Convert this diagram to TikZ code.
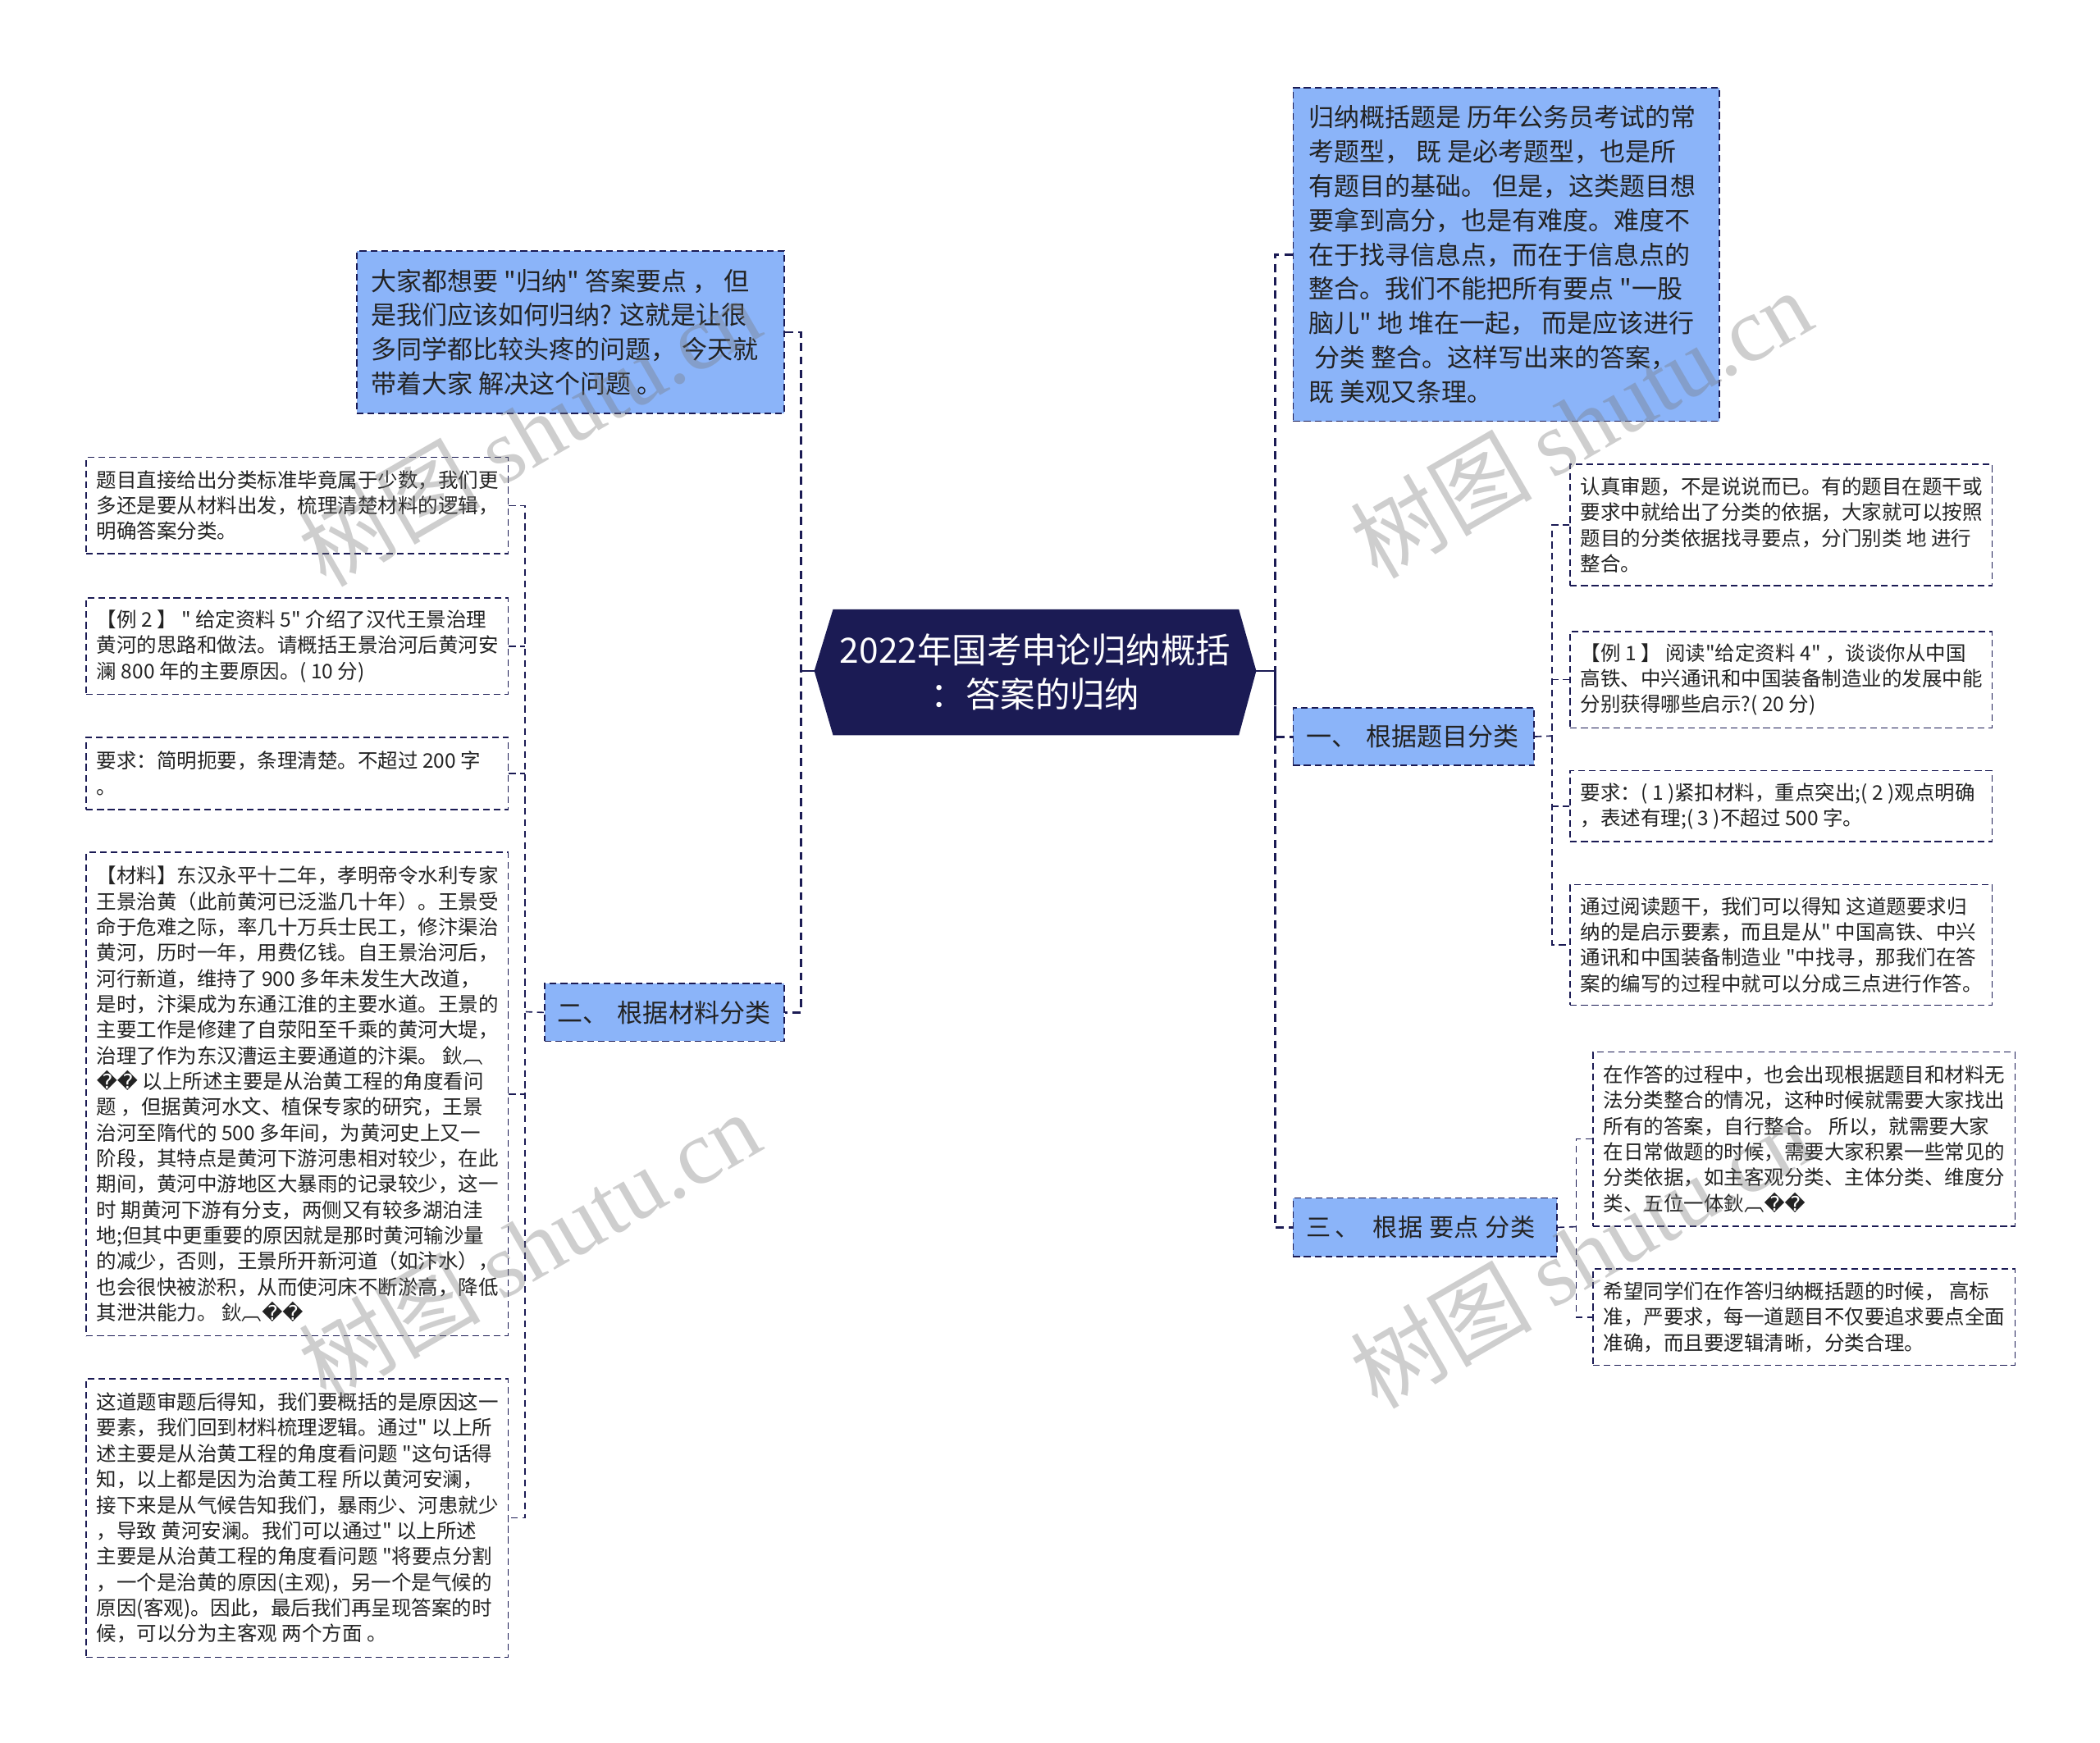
\documentclass[tikz,border=0pt]{standalone}
\usepackage{fontspec}
\setmainfont{Noto Sans CJK SC}[Ligatures=TeXOff]
\newfontfamily\dejavu{DejaVu Sans}
\newfontfamily\wmserif{Liberation Serif}
\definecolor{navy}{RGB}{27,27,84}
\definecolor{boxblue}{RGB}{139,180,249}
\definecolor{txtc}{RGB}{35,35,35}
\definecolor{wmc}{RGB}{120,120,120}
\newcommand{\rep}{{\dejavu ��}}
\begin{document}
\begin{tikzpicture}[x=1pt,y=-1pt,
  bluebox/.style={draw=navy, fill=boxblue, line width=1.1pt, dash pattern=on 5pt off 3pt, anchor=north west, inner sep=0pt},
  whitebox/.style={draw=navy, fill=white, line width=1pt, dash pattern=on 5pt off 3pt, anchor=north west, inner sep=0pt},
  bigtxt/.style={anchor=west, align=left, inner sep=0pt, text=txtc, font=\fontsize{19}{25.6}\selectfont},
  labtxt/.style={anchor=west, align=left, inner sep=0pt, text=txtc, font=\fontsize{19}{22}\selectfont},
  smalltxt/.style={anchor=west, align=left, inner sep=0pt, text=txtc, font=\fontsize{15}{19.2}\selectfont},
  mainlink/.style={draw=navy, line width=1.8pt, dash pattern=on 6pt off 4pt},
  sublink/.style={draw=navy, line width=1pt, dash pattern=on 5pt off 3.5pt},
  wmark/.style={text=wmc, opacity=0.36, rotate=30, inner sep=0pt, font=\fontsize{68}{70}\selectfont}
]
\useasboundingbox (0,0) rectangle (1568,1301);

% ---------- root ----------
\coordinate (cL) at (608,501);
\coordinate (cR) at (938,501);
\fill[navy] (cL) -- (622,455) -- (925,455) -- (cR) -- (925,549) -- (622,549) -- cycle;
\node[text=white, align=center, inner sep=0pt, font=\fontsize{26}{33}\selectfont] (root) at (773,502)
  {2022年国考申论归纳概括\\：答案的归纳};

% ---------- right level 1 ----------
\node[bluebox, minimum width=318pt, minimum height=249pt] (rtop) at (965,65) {};
\node[bigtxt] (rtoptxt) at ([xshift=12pt]rtop.west) {归纳概括题是 历年公务员考试的常\\
考题型， 既 是必考题型，也是所\\
有题目的基础。 但是，这类题目想\\
要拿到高分，也是有难度。难度不\\
在于找寻信息点，而在于信息点的\\
整合。我们不能把所有要点 "一股\\
脑儿" 地 堆在一起， 而是应该进行\\
\ 分类 整合。这样写出来的答案，\\
既 美观又条理。};

\node[bluebox, minimum width=180pt, minimum height=43pt] (one) at (965,528) {};
\node[labtxt] (onetxt) at ([xshift=10pt]one.west) {一、\hspace{7pt}根据题目分类};

\node[bluebox, minimum width=197pt, minimum height=44pt] (three) at (965,894) {};
\node[labtxt, font=\fontsize{18.5}{22}\selectfont] (threetxt) at ([xshift=10pt]three.west) {三\hspace{3pt}、\hspace{10pt}根据\hspace{5pt}要点\hspace{5pt}分类};

% ---------- left level 1 ----------
\node[bluebox, minimum width=319pt, minimum height=121pt] (dajia) at (266,187) {};
\node[bigtxt] (dajiatxt) at ([xshift=11pt]dajia.west) {大家都想要 "归纳" 答案要点 ， 但\\
是我们应该如何归纳? 这就是让很\\
多同学都比较头疼的问题， 今天就\\
带着大家 解决这个问题 。};

\node[bluebox, minimum width=179pt, minimum height=43pt] (two) at (406,734) {};
\node[labtxt] (twotxt) at ([xshift=10pt]two.west) {二、\hspace{7pt}根据材料分类};

% ---------- left children ----------
\node[whitebox, minimum width=315pt, minimum height=72pt] (la) at (64,341) {};
\node[smalltxt] (latxt) at ([xshift=8pt]la.west) {题目直接给出分类标准毕竟属于少数，我们更\\
多还是要从材料出发，梳理清楚材料的逻辑，\\
明确答案分类。};

\node[whitebox, minimum width=315pt, minimum height=72pt] (lb) at (64,446) {};
\node[smalltxt] (lbtxt) at ([xshift=8pt]lb.west) {【例 2 】 " 给定资料 5" 介绍了汉代王景治理\\
黄河的思路和做法。请概括王景治河后黄河安\\
澜 800 年的主要原因。( 10 分)};

\node[whitebox, minimum width=315pt, minimum height=54pt] (lc) at (64,550) {};
\node[smalltxt] (lctxt) at ([xshift=8pt]lc.west) {要求：简明扼要，条理清楚。不超过 200 字\\
。};

\node[whitebox, minimum width=315pt, minimum height=361pt] (ld) at (64,636) {};
\node[smalltxt] (ldtxt) at ([xshift=8pt]ld.west) {【材料】东汉永平十二年，孝明帝令水利专家\\
王景治黄（此前黄河已泛滥几十年）。王景受\\
命于危难之际，率几十万兵士民工，修汴渠治\\
黄河，历时一年，用费亿钱。自王景治河后，\\
河行新道，维持了 900 多年未发生大改道，\\
是时，汴渠成为东通江淮的主要水道。王景的\\
主要工作是修建了自荥阳至千乘的黄河大堤，\\
治理了作为东汉漕运主要通道的汴渠。 鈥︹\\
\rep{} 以上所述主要是从治黄工程的角度看问\\
题 ，但据黄河水文、植保专家的研究，王景\\
治河至隋代的 500 多年间，为黄河史上又一\\
阶段，其特点是黄河下游河患相对较少，在此\\
期间，黄河中游地区大暴雨的记录较少，这一\\
时 期黄河下游有分支，两侧又有较多湖泊洼\\
地;但其中更重要的原因就是那时黄河输沙量\\
的减少，否则，王景所开新河道（如汴水），\\
也会很快被淤积，从而使河床不断淤高，降低\\
其泄洪能力。 鈥︹\rep};

\node[whitebox, minimum width=315pt, minimum height=208pt] (le) at (64,1029) {};
\node[smalltxt] (letxt) at ([xshift=8pt]le.west) {这道题审题后得知，我们要概括的是原因这一\\
要素，我们回到材料梳理逻辑。通过" 以上所\\
述主要是从治黄工程的角度看问题 "这句话得\\
知，以上都是因为治黄工程 所以黄河安澜，\\
接下来是从气候告知我们，暴雨少、河患就少\\
，导致 黄河安澜。我们可以通过" 以上所述\\
主要是从治黄工程的角度看问题 "将要点分割\\
，一个是治黄的原因(主观)，另一个是气候的\\
原因(客观)。因此，最后我们再呈现答案的时\\
候，可以分为主客观 两个方面 。};

% ---------- right children of one ----------
\node[whitebox, minimum width=315pt, minimum height=91pt] (ra) at (1172,346) {};
\node[smalltxt] (ratxt) at ([xshift=8pt]ra.west) {认真审题，不是说说而已。有的题目在题干或\\
要求中就给出了分类的依据，大家就可以按照\\
题目的分类依据找寻要点，分门别类 地 进行\\
整合。};

\node[whitebox, minimum width=315pt, minimum height=72pt] (rb) at (1172,471) {};
\node[smalltxt] (rbtxt) at ([xshift=8pt]rb.west) {【例 1 】 阅读"给定资料 4" ，谈谈你从中国\\
高铁、中兴通讯和中国装备制造业的发展中能\\
分别获得哪些启示?( 20 分)};

\node[whitebox, minimum width=315pt, minimum height=53pt] (rc) at (1172,575) {};
\node[smalltxt] (rctxt) at ([xshift=8pt]rc.west) {要求：( 1 )紧扣材料，重点突出;( 2 )观点明确\\
，表述有理;( 3 )不超过 500 字。};

\node[whitebox, minimum width=315pt, minimum height=90pt] (rd) at (1172,660) {};
\node[smalltxt] (rdtxt) at ([xshift=8pt]rd.west) {通过阅读题干，我们可以得知 这道题要求归\\
纳的是启示要素，而且是从" 中国高铁、中兴\\
通讯和中国装备制造业 "中找寻，那我们在答\\
案的编写的过程中就可以分成三点进行作答。};

% ---------- right children of three ----------
\node[whitebox, minimum width=315pt, minimum height=130pt] (sa) at (1189,785) {};
\node[smalltxt] (satxt) at ([xshift=8pt]sa.west) {在作答的过程中，也会出现根据题目和材料无\\
法分类整合的情况，这种时候就需要大家找出\\
所有的答案，自行整合。 所以，就需要大家\\
在日常做题的时候，需要大家积累一些常见的\\
分类依据，如主客观分类、主体分类、维度分\\
类、五位一体鈥︹\rep};

\node[whitebox, minimum width=315pt, minimum height=72pt] (sb) at (1189,947) {};
\node[smalltxt] (sbtxt) at ([xshift=8pt]sb.west) {希望同学们在作答归纳概括题的时候， 高标\\
准，严要求，每一道题目不仅要追求要点全面\\
准确，而且要逻辑清晰，分类合理。};

% ---------- connectors ----------
\coordinate (jL) at (598,501);
\coordinate (jR) at (952,501);
\draw[navy, line width=1.8pt] (cL) -- (jL);
\draw[navy, line width=1.8pt] (cR) -- (jR);
\draw[mainlink] (dajia.east) -| (jL) |- (two.east);
\draw[mainlink] (rtop.west) -| (jR) |- (three.west);
\draw[mainlink] (jR) |- (one.west);

\coordinate (jL2) at (392,755.5);
\draw[sublink] (two.west) -- (jL2);
\draw[sublink] (la.east) -| (jL2) |- (le.east);
\draw[sublink] (lb.east) -- (lb.east -| jL2);
\draw[sublink] (lc.east) -- (lc.east -| jL2);
\draw[sublink] (ld.east) -- (ld.east -| jL2);

\coordinate (jR1) at (1159,549.5);
\draw[sublink] (one.east) -- (jR1);
\draw[sublink] (ra.west) -| (jR1) |- (rd.west);
\draw[sublink] (rb.west) -- (rb.west -| jR1);
\draw[sublink] (rc.west) -- (rc.west -| jR1);

\coordinate (jR3) at (1177,916);
\draw[sublink] (three.east) -- (jR3);
\draw[sublink] (sa.west) -| (jR3) |- (sb.west);

% ---------- watermarks ----------
\node[wmark] (wm1) at (395,322) {树图 {\wmserif shutu.cn}};
\node[wmark] (wm2) at (1180,316) {树图 {\wmserif shutu.cn}};
\node[wmark] (wm3) at (395,930) {树图 {\wmserif shutu.cn}};
\node[wmark] (wm4) at (1180,936) {树图 {\wmserif shutu.cn}};
\end{tikzpicture}
\end{document}
